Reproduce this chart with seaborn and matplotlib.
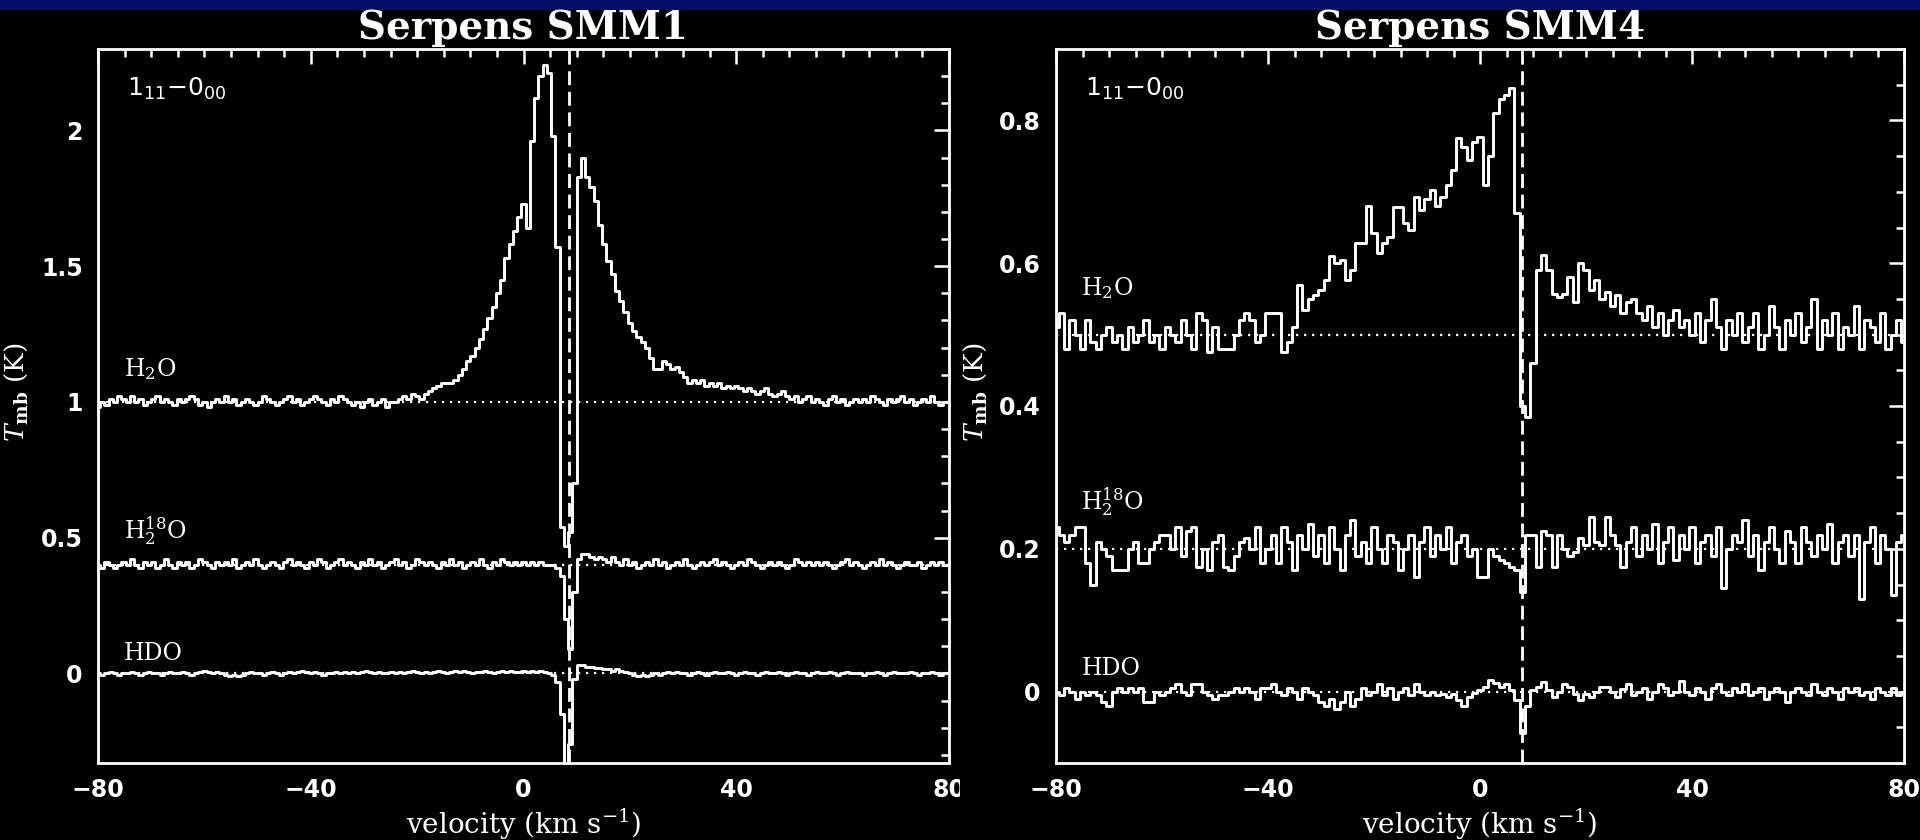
import numpy as np
import matplotlib
matplotlib.use("Agg")
import matplotlib.pyplot as plt
import seaborn as sns
from matplotlib.ticker import MultipleLocator, FuncFormatter
from matplotlib.patches import Rectangle
from matplotlib.transforms import Bbox, TransformedBbox

# ---------------------------------------------------------------------------
# Spectra: channel grids (start velocity, channel width) and brightness
# temperatures relative to each spectrum's own baseline (K).
# ---------------------------------------------------------------------------
smm1_v0, smm1_dv = -80.0, 0.8
smm4_v0, smm4_dv = -80.0, 1.0

smm1_h2o = [
    -0.02, 0.00, -0.01, 0.01, 0.00, 0.02, 0.01, 0.00, 0.02, 0.00,
    0.01, -0.01, 0.00, 0.01, 0.02, 0.00, 0.01, 0.00, -0.01, 0.01,
    0.00, 0.01, 0.02, 0.01, -0.01, 0.00, -0.02, 0.00, 0.01, 0.00,
    0.02, 0.00, 0.01, -0.01, 0.00, 0.01, 0.00, -0.01, 0.00, 0.02,
    0.01, 0.00, -0.01, 0.00, 0.01, 0.02, 0.00, 0.01, -0.01, 0.00,
    0.01, 0.02, 0.01, 0.00, -0.01, 0.01, 0.00, 0.02, 0.01, 0.00,
    -0.01, 0.00, -0.02, 0.00, 0.01, -0.01, 0.00, 0.01, -0.02, 0.00,
    0.00, 0.01, 0.02, 0.01, 0.03, 0.02, 0.01, 0.03, 0.04, 0.05,
    0.06, 0.07, 0.07, 0.07, 0.08, 0.10, 0.12, 0.15, 0.17, 0.20,
    0.23, 0.27, 0.31, 0.35, 0.40, 0.45, 0.53, 0.58, 0.63, 0.68,
    0.73, 0.64, 0.96, 1.12, 1.20, 1.24, 1.21, 0.98, 0.57, -0.46,
    -0.53, -0.48, -0.30, 0.83, 0.90, 0.83, 0.79, 0.74, 0.65, 0.58,
    0.52, 0.47, 0.41, 0.37, 0.33, 0.29, 0.26, 0.24, 0.22, 0.20,
    0.16, 0.12, 0.12, 0.15, 0.14, 0.12, 0.13, 0.11, 0.09, 0.07,
    0.08, 0.07, 0.08, 0.06, 0.07, 0.06, 0.07, 0.05, 0.06, 0.05,
    0.06, 0.05, 0.04, 0.05, 0.04, 0.03, 0.04, 0.05, 0.03, 0.02,
    0.03, 0.04, 0.02, 0.01, 0.02, 0.00, 0.01, 0.02, 0.00, 0.01,
    0.00, -0.01, 0.01, 0.02, 0.00, 0.01, -0.01, 0.00, 0.01, 0.00,
    0.01, 0.00, 0.02, 0.01, 0.00, -0.01, 0.01, 0.00, 0.01, 0.02,
    0.00, 0.01, -0.01, 0.00, 0.01, 0.00, 0.02, 0.00, -0.01, 0.00,
    0.00,
]

smm1_h218o = [
    0.00, -0.01, 0.01, 0.00, -0.01, 0.00, 0.01, 0.00, 0.02, 0.00,
    -0.01, 0.01, 0.00, 0.01, -0.01, 0.00, 0.02, 0.00, -0.01, 0.01,
    0.00, 0.01, -0.01, 0.00, 0.02, 0.01, 0.00, -0.01, 0.01, 0.00,
    0.01, 0.00, 0.02, -0.01, 0.00, 0.01, 0.00, 0.02, 0.00, -0.01,
    0.00, 0.01, 0.00, -0.01, 0.01, 0.02, 0.00, 0.01, 0.00, -0.01,
    0.01, 0.00, 0.02, 0.01, -0.01, 0.00, 0.01, 0.02, 0.00, 0.01,
    0.00, -0.01, 0.01, 0.00, 0.02, 0.00, 0.01, -0.01, 0.00, 0.01,
    0.02, 0.00, 0.01, -0.01, 0.00, 0.02, 0.01, 0.00, 0.01, 0.00,
    -0.01, 0.01, 0.00, 0.02, 0.00, 0.01, -0.01, 0.00, 0.01, 0.00,
    0.02, 0.00, -0.01, 0.01, 0.00, 0.02, 0.01, 0.00, 0.01, 0.00,
    0.01, 0.00, 0.01, 0.00, 0.01, 0.00, 0.00, 0.00, -0.01, -0.04,
    -0.20, -0.31, -0.10, 0.02, 0.04, 0.04, 0.03, 0.02, 0.03, 0.02,
    0.01, 0.03, 0.01, 0.00, 0.02, 0.00, 0.01, -0.01, 0.00, 0.01,
    0.00, 0.02, 0.00, 0.01, -0.01, 0.00, 0.01, 0.00, 0.02, 0.00,
    -0.01, 0.00, 0.01, 0.00, 0.01, 0.02, 0.00, 0.01, 0.00, -0.01,
    0.00, 0.01, 0.00, 0.02, 0.01, 0.00, -0.01, 0.00, 0.01, 0.00,
    0.01, 0.00, -0.01, 0.00, 0.02, 0.01, 0.00, 0.01, 0.00, 0.01,
    0.00, 0.01, 0.00, -0.01, 0.00, 0.01, 0.02, 0.00, 0.01, 0.00,
    -0.01, 0.00, 0.01, 0.00, 0.02, 0.00, 0.01, 0.00, -0.01, 0.00,
    0.01, 0.00, 0.00, 0.01, -0.01, 0.00, 0.01, 0.00, 0.01, 0.00,
    0.00,
]

smm1_hdo = [
    0.000, -0.005, 0.000, 0.005, 0.000, -0.005, 0.000, 0.000, 0.005, 0.000,
    -0.005, 0.000, 0.005, 0.000, 0.000, -0.005, 0.000, 0.005, 0.000, 0.000,
    0.005, 0.000, -0.005, 0.000, 0.005, 0.010, 0.005, 0.000, 0.005, 0.000,
    -0.005, -0.010, -0.005, -0.010, -0.005, 0.000, 0.005, 0.000, 0.000, -0.005,
    0.000, 0.005, 0.000, -0.005, 0.000, 0.005, 0.000, 0.005, 0.010, 0.005,
    0.000, 0.005, 0.000, -0.005, 0.000, 0.000, 0.005, 0.000, 0.005, 0.000,
    0.005, 0.000, 0.005, 0.010, 0.005, 0.000, 0.005, 0.000, 0.000, 0.005,
    0.000, 0.005, 0.000, 0.005, 0.010, 0.005, 0.000, 0.005, 0.000, 0.005,
    0.010, 0.005, 0.000, 0.005, 0.010, 0.005, 0.010, 0.005, 0.000, 0.005,
    0.005, 0.010, 0.005, 0.000, 0.005, 0.010, 0.005, 0.010, 0.005, 0.005,
    0.010, 0.005, 0.010, 0.005, 0.010, 0.005, 0.000, -0.005, -0.030, -0.150,
    -0.340, -0.260, -0.020, 0.030, 0.030, 0.025, 0.025, 0.020, 0.020, 0.015,
    0.015, 0.010, 0.015, 0.010, 0.005, 0.000, -0.005, -0.010, -0.005, -0.010,
    -0.005, 0.000, -0.005, 0.000, 0.005, 0.000, 0.005, 0.000, 0.000, -0.005,
    0.000, 0.005, 0.000, -0.005, 0.000, 0.005, 0.000, 0.000, 0.005, 0.000,
    -0.005, 0.000, 0.005, 0.000, 0.000, -0.005, 0.000, 0.005, 0.000, 0.000,
    0.005, 0.000, -0.005, 0.000, 0.005, 0.000, 0.000, -0.005, 0.000, 0.005,
    0.000, 0.000, 0.005, 0.000, -0.005, 0.000, 0.005, 0.000, 0.000, 0.000,
    -0.005, 0.000, 0.000, 0.005, 0.000, -0.005, 0.000, 0.005, 0.000, 0.000,
    0.000, 0.005, 0.000, -0.005, 0.000, 0.000, 0.005, 0.000, -0.005, 0.000,
    0.000,
]

smm4_h2o = [
    0.01, 0.03, -0.02, 0.02, 0.00, -0.02, 0.02, -0.01, -0.02, 0.00,
    0.01, -0.01, 0.00, -0.02, 0.01, -0.01, 0.00, 0.02, -0.01, 0.00,
    -0.02, 0.01, 0.00, -0.01, 0.02, 0.00, -0.02, 0.03, 0.02, -0.025,
    0.01, -0.02, -0.02, -0.02, 0.00, 0.02, 0.03, 0.02, -0.01, 0.00,
    0.03, 0.03, 0.03, -0.025, -0.01, 0.01, 0.07, 0.035, 0.05, 0.055,
    0.063, 0.077, 0.11, 0.10, 0.105, 0.077, 0.09, 0.128, 0.128, 0.18,
    0.142, 0.114, 0.128, 0.137, 0.179, 0.179, 0.156, 0.147, 0.193, 0.175,
    0.19, 0.203, 0.18, 0.193, 0.21, 0.23, 0.275, 0.263, 0.245, 0.27,
    0.277, 0.21, 0.25, 0.31, 0.33, 0.335, 0.345, 0.17, -0.10, -0.115,
    -0.04, 0.09, 0.112, 0.09, 0.057, 0.053, 0.057, 0.08, 0.045, 0.10,
    0.09, 0.063, 0.077, 0.05, 0.06, 0.04, 0.055, 0.03, 0.045, 0.05,
    0.03, 0.02, 0.04, 0.01, 0.03, 0.00, 0.02, 0.035, 0.01, 0.02,
    0.00, 0.03, -0.01, 0.02, 0.05, 0.01, -0.02, 0.02, 0.00, 0.03,
    -0.01, 0.01, 0.03, -0.02, 0.00, 0.04, 0.01, -0.02, 0.02, 0.00,
    0.03, -0.01, 0.01, 0.05, -0.02, 0.02, 0.00, 0.03, -0.02, 0.01,
    0.00, 0.04, -0.02, 0.02, 0.01, -0.01, 0.03, -0.02, 0.00, 0.02,
    -0.01,
]

smm4_h218o = [
    0.03, 0.02, 0.01, 0.02, 0.03, 0.03, -0.02, -0.05, 0.01, 0.00,
    -0.01, -0.03, -0.03, -0.03, 0.00, 0.01, -0.02, -0.02, 0.00, 0.01,
    0.02, 0.02, 0.00, 0.03, -0.01, 0.025, 0.03, -0.025, 0.00, -0.03,
    0.01, 0.02, -0.025, -0.03, -0.01, 0.01, 0.015, 0.00, 0.03, -0.02,
    0.00, 0.02, -0.02, 0.03, 0.01, -0.03, 0.02, 0.00, 0.035, -0.01,
    0.02, -0.02, 0.03, 0.00, -0.03, 0.02, 0.04, -0.01, 0.01, -0.02,
    0.03, 0.00, -0.02, 0.02, 0.01, -0.03, 0.00, 0.02, -0.04, 0.01,
    0.03, -0.01, 0.02, 0.00, 0.03, -0.02, 0.01, 0.02, -0.01, 0.00,
    -0.04, -0.04, 0.00, -0.01, -0.015, -0.02, -0.025, -0.03, -0.06, 0.02,
    0.02, -0.025, 0.025, 0.02, -0.025, 0.02, 0.00, -0.01, -0.005, 0.015,
    0.005, 0.045, 0.01, 0.005, 0.045, 0.02, 0.005, -0.025, 0.01, 0.03,
    -0.01, 0.02, 0.00, 0.035, -0.02, 0.01, 0.03, -0.015, 0.02, 0.00,
    0.03, -0.02, 0.01, 0.02, -0.01, 0.03, -0.055, 0.00, 0.02, 0.01,
    0.04, -0.01, 0.02, -0.03, 0.01, 0.03, 0.00, -0.02, 0.025, 0.01,
    -0.02, 0.03, 0.01, -0.01, 0.02, 0.00, 0.035, -0.02, 0.01, 0.02,
    -0.01, 0.02, -0.07, 0.01, 0.03, -0.02, 0.02, 0.00, -0.065, 0.01,
    0.02,
]

smm4_hdo = [
    0.000, -0.005, 0.005, 0.000, -0.010, 0.000, -0.005, 0.000, -0.005, -0.015,
    -0.020, 0.000, 0.005, 0.000, 0.005, 0.000, 0.005, -0.015, -0.015, 0.000,
    -0.005, 0.000, 0.005, 0.010, 0.000, -0.005, 0.010, 0.010, 0.000, -0.005,
    -0.010, -0.005, -0.005, 0.000, 0.005, 0.000, 0.005, 0.000, -0.010, 0.005,
    0.005, 0.010, 0.000, -0.005, 0.005, 0.000, -0.010, 0.005, 0.000, -0.005,
    -0.015, -0.020, -0.010, -0.025, -0.015, 0.000, -0.020, -0.010, 0.005, -0.005,
    0.000, 0.010, -0.005, 0.005, -0.010, 0.000, 0.005, -0.005, 0.010, 0.000,
    -0.005, 0.000, -0.005, -0.003, -0.008, -0.003, -0.012, -0.020, -0.008, -0.002,
    0.002, 0.006, 0.016, 0.012, 0.006, 0.010, 0.002, -0.012, -0.058, -0.020,
    0.002, 0.006, 0.014, 0.002, -0.008, 0.000, 0.010, 0.006, -0.003, -0.012,
    -0.003, -0.008, 0.000, 0.007, 0.006, 0.000, -0.008, 0.004, 0.010, -0.005,
    0.000, 0.005, -0.010, 0.000, 0.010, 0.005, -0.005, 0.000, 0.015, 0.000,
    -0.005, 0.005, 0.000, -0.010, 0.005, 0.010, 0.000, -0.005, 0.005, 0.000,
    0.010, -0.005, 0.000, 0.005, -0.010, 0.000, 0.005, 0.000, -0.015, 0.000,
    0.005, 0.000, -0.005, 0.010, 0.000, -0.005, 0.005, 0.000, -0.010, 0.005,
    0.000, 0.005, -0.005, 0.000, -0.010, 0.005, 0.000, -0.005, 0.005, -0.005,
    0.000,
]

species = [r"H$_2$O", r"H$_2^{18}$O", "HDO"]
smm1_offsets = [1.0, 0.4, 0.0]
smm4_offsets = [0.5, 0.2, 0.0]
smm1_vsys = 8.5
smm4_vsys = 8.0
titles = ["Serpens SMM1", "Serpens SMM4"]
transition = r"1$_{11}$$-$0$_{00}$"
xlabel = r"velocity (km s$^{-1}$)"
ylabel = r"$T_{\mathbf{mb}}$ (K)"

# ---------------------------------------------------------------------------
# Style
# ---------------------------------------------------------------------------
sns.set_theme(style="dark")
plt.rcParams.update({
    "figure.facecolor": "black",
    "axes.facecolor": "black",
    "axes.edgecolor": "white",
    "axes.linewidth": 2.0,
    "text.color": "white",
    "axes.labelcolor": "white",
    "xtick.color": "white",
    "ytick.color": "white",
    "axes.grid": False,
    "font.family": ["DejaVu Sans"],
    "mathtext.fontset": "dejavuserif",
})

W, H = 1920, 840
fig = plt.figure(figsize=(W / 100, H / 100), dpi=100, facecolor="black")

# navy strip along the top edge
fig.add_artist(Rectangle((0, 1 - 10 / H), 1, 10 / H, transform=fig.transFigure,
                         facecolor="#03106a", edgecolor="none", zorder=0))

frame_bottom, frame_top = 763, 49
panels = [
    dict(left=98, right=949, ylim=(-0.33, 2.30), major=0.5, minor=0.1,
         v0=smm1_v0, dv=smm1_dv, spectra=[smm1_h2o, smm1_h218o, smm1_hdo],
         offsets=smm1_offsets, vsys=smm1_vsys, label_dy=[0.095, 0.10, 0.05],
         ylab_x=16),
    dict(left=1056, right=1904, ylim=(-0.10, 0.90), major=0.2, minor=0.05,
         v0=smm4_v0, dv=smm4_dv, spectra=[smm4_h2o, smm4_h218o, smm4_hdo],
         offsets=smm4_offsets, vsys=smm4_vsys, label_dy=[0.056, 0.055, 0.023],
         ylab_x=975),
]
ylab_y = 392


def tick_text(val, pos):
    return ("%g" % round(val, 2)).replace("-", "\u2212")


for k, p in enumerate(panels):
    ax = fig.add_axes([p["left"] / W, 1 - frame_bottom / H,
                       (p["right"] - p["left"]) / W, (frame_bottom - frame_top) / H])
    ax.set_facecolor("black")
    for spec, off in zip(p["spectra"], p["offsets"]):
        spec = np.asarray(spec, dtype=float)
        vel = p["v0"] + p["dv"] * np.arange(spec.size)
        ax.axhline(off, color="white", lw=1.6, ls=(0, (1, 2.6)), zorder=1)
        sns.lineplot(x=vel, y=spec + off, ax=ax, color="white", lw=2.1,
                     drawstyle="steps-mid", estimator=None, zorder=3)
    ax.axvline(p["vsys"], color="white", lw=2.0, ls=(0, (5, 2.4)), zorder=4)

    for name, off, dy in zip(species, p["offsets"], p["label_dy"]):
        ax.text(-75.2, off + dy, name, fontsize=17, family="DejaVu Serif",
                math_fontfamily="dejavuserif", color="white",
                ha="left", va="baseline")
    ax.text(0.034, 0.934, transition, transform=ax.transAxes, fontsize=18,
            family="DejaVu Sans", math_fontfamily="dejavusans", color="white",
            ha="left", va="baseline")

    ax.set_xlim(-80, 80)
    ax.set_ylim(*p["ylim"])
    ax.xaxis.set_major_locator(MultipleLocator(40))
    ax.xaxis.set_minor_locator(MultipleLocator(5))
    ax.yaxis.set_major_locator(MultipleLocator(p["major"]))
    ax.yaxis.set_minor_locator(MultipleLocator(p["minor"]))
    ax.xaxis.set_major_formatter(FuncFormatter(tick_text))
    ax.yaxis.set_major_formatter(FuncFormatter(tick_text))
    ax.tick_params(which="both", direction="in", top=True, right=True,
                   width=1.8, color="white", labelcolor="white",
                   labelsize=17, pad=11)
    ax.tick_params(which="major", length=10.8)
    ax.tick_params(which="minor", length=5.8)
    for lbl in ax.get_xticklabels() + ax.get_yticklabels():
        lbl.set_fontweight("bold")
    for s in ax.spines.values():
        s.set_color("white")
        s.set_linewidth(2.0)
    ax.set_xlabel(xlabel, fontsize=20, family="DejaVu Serif", color="white",
                  labelpad=3)
    ax.set_ylabel("")
    ax.set_title(titles[k], fontsize=28, family="DejaVu Serif",
                 fontweight="bold", color="white", pad=7)
    fig.text(p["ylab_x"] / W, 1 - ylab_y / H, ylabel, rotation=90,
             fontsize=19, family="DejaVu Serif", color="white",
             ha="center", va="center")

    if k == 0:
        # left half ends at the figure midline; its last x label is cut there
        clip = TransformedBbox(Bbox([[0, 0], [960 / W, 1]]), fig.transFigure)
        for lbl in ax.get_xticklabels():
            lbl.set_clip_box(clip)
            lbl.set_clip_on(True)

fig.savefig("out.png", dpi=100, facecolor="black")
